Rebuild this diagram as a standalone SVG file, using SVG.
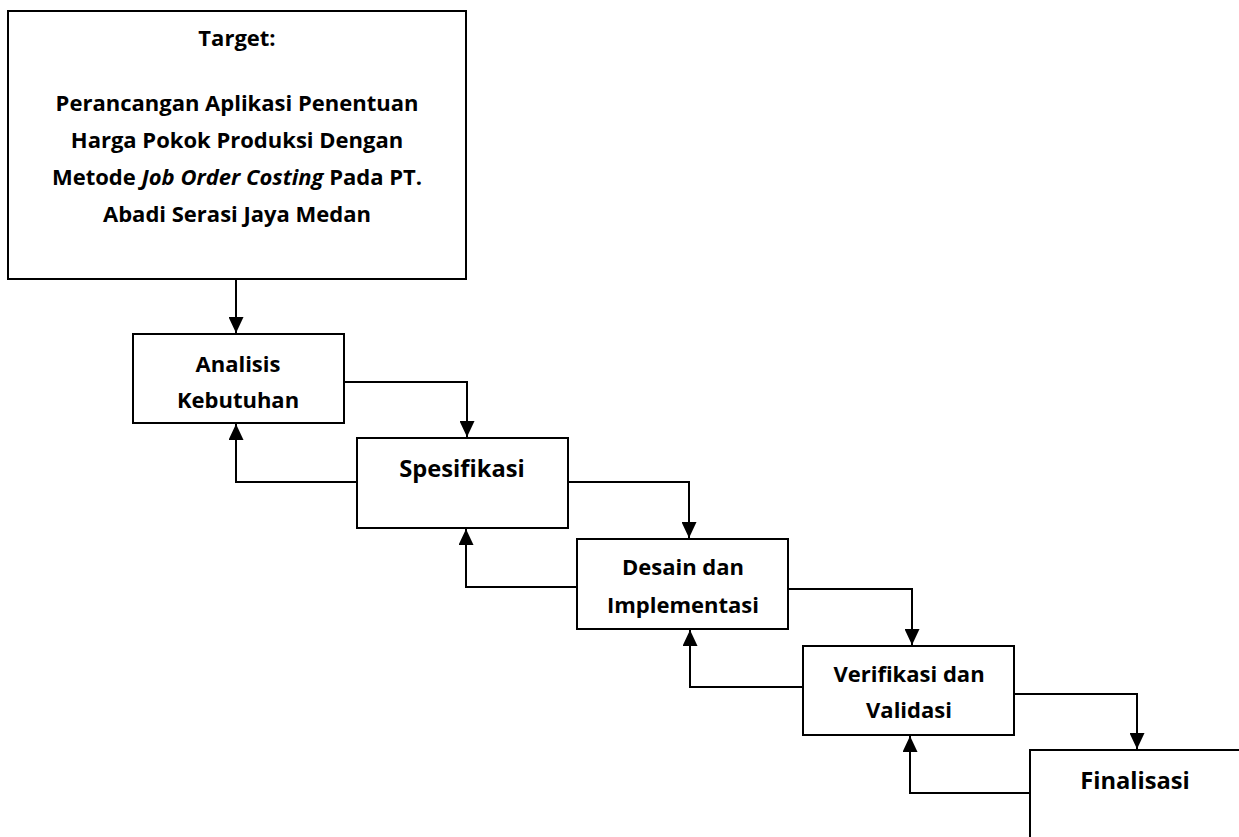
<svg xmlns="http://www.w3.org/2000/svg" width="1239" height="837" viewBox="0 0 1239 837">
<style>
.box{fill:#fff;stroke:#000;stroke-width:2}
.t{font-family:"Open Sans","Noto Sans","Liberation Sans",sans-serif;font-weight:bold;font-size:22px;fill:#000;text-anchor:middle;font-variant-ligatures:none}
.big{font-size:23.7px}
.c{fill:none;stroke:#000;stroke-width:2}
</style>
<defs>
<marker id="ah" viewBox="0 0 16 15" refX="16" refY="7.5" markerWidth="16" markerHeight="15" markerUnits="userSpaceOnUse" orient="auto">
<path d="M0,0 L16,7.5 L0,15 Z" fill="#000"/>
</marker>
</defs>
<rect width="1239" height="837" fill="#fff"/>
<g id="connectors">
<path class="c" d="M236,279 V333" marker-end="url(#ah)"/>
<path class="c" d="M344,382 H467 V437" marker-end="url(#ah)"/>
<path class="c" d="M568,482 H689 V538" marker-end="url(#ah)"/>
<path class="c" d="M788,589 H912 V645" marker-end="url(#ah)"/>
<path class="c" d="M1014,694 H1137 V749" marker-end="url(#ah)"/>
<path class="c" d="M357,482 H236 V424" marker-end="url(#ah)"/>
<path class="c" d="M577,587 H466 V529" marker-end="url(#ah)"/>
<path class="c" d="M803,687 H690 V630" marker-end="url(#ah)"/>
<path class="c" d="M1030,793 H910 V736" marker-end="url(#ah)"/>
</g>
<g id="target">
<rect class="box" x="8" y="11" width="458" height="268"/>
<text class="t" x="237" y="46">Target:</text>
<text class="t" x="237" y="111">Perancangan Aplikasi Penentuan</text>
<text class="t" x="237" y="148">Harga Pokok Produksi Dengan</text>
<text class="t" x="237" y="185">Metode <tspan font-style="italic">Job Order Costing</tspan> Pada PT.</text>
<text class="t" x="237" y="222">Abadi Serasi Jaya Medan</text>
</g>
<g id="analisis">
<rect class="box" x="133" y="334" width="211" height="89"/>
<text class="t" x="238" y="372">Analisis</text>
<text class="t" x="238" y="408">Kebutuhan</text>
</g>
<g id="spesifikasi">
<rect class="box" x="357" y="438" width="211" height="90"/>
<text class="t big" x="462" y="477">Spesifikasi</text>
</g>
<g id="desain">
<rect class="box" x="577" y="539" width="211" height="90"/>
<text class="t" x="683" y="575">Desain dan</text>
<text class="t" x="683" y="613">Implementasi</text>
</g>
<g id="verifikasi">
<rect class="box" x="803" y="646" width="211" height="89"/>
<text class="t" x="909" y="682">Verifikasi dan</text>
<text class="t" x="909" y="718">Validasi</text>
</g>
<g id="finalisasi">
<rect class="box" x="1030" y="750" width="230" height="110"/>
<text class="t big" x="1135" y="789">Finalisasi</text>
</g>
</svg>
